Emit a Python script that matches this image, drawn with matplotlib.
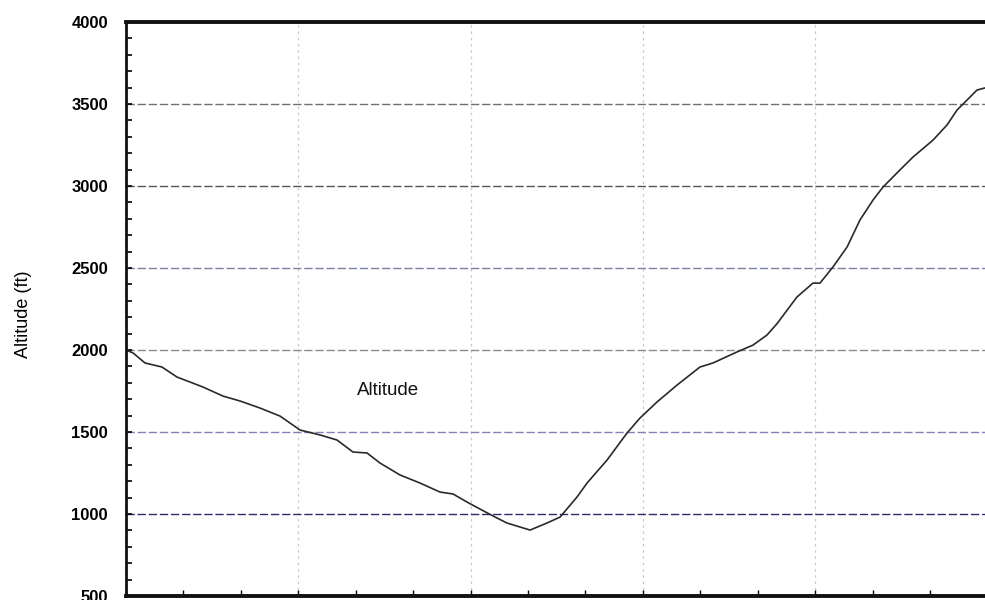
import matplotlib
matplotlib.use("Agg")
import matplotlib.pyplot as plt
from matplotlib.ticker import MultipleLocator

plt.rcParams['font.family'] = ['Liberation Sans', 'DejaVu Sans']

# Data (x in major-grid units, altitude in ft)
distance = [0.000, 0.041, 0.110, 0.209, 0.296, 0.371, 0.447, 0.563, 0.662, 0.778,
            0.894, 1.010, 1.126, 1.225, 1.317, 1.399, 1.474, 1.590, 1.706, 1.822,
            1.898, 1.979, 2.055, 2.130, 2.211, 2.345, 2.443, 2.519, 2.618, 2.676,
            2.792, 2.908, 2.983, 3.082, 3.198, 3.331, 3.407, 3.546, 3.639, 3.720,
            3.778, 3.894, 3.987, 4.028, 4.103, 4.185, 4.260, 4.336, 4.394, 4.492,
            4.568, 4.684, 4.765, 4.823, 4.881, 4.939, 4.985]
altitude = [2000, 1982, 1921, 1896, 1835, 1805, 1774, 1719, 1689, 1646,
            1597, 1512, 1482, 1451, 1378, 1372, 1311, 1238, 1189, 1134,
            1122, 1073, 1030, 988, 945, 902, 945, 981, 1104, 1189,
            1329, 1494, 1585, 1683, 1786, 1896, 1921, 1988, 2030, 2091,
            2160, 2323, 2408, 2408, 2506, 2628, 2793, 2915, 2994, 3098,
            3177, 3280, 3372, 3463, 3524, 3585, 3598]

y_ticks = [500, 1000, 1500, 2000, 2500, 3000, 3500, 4000]
y_label = "Altitude (ft)"
series_label = "Altitude"

fig = plt.figure(figsize=(9.85, 6.0), dpi=100)
ax = fig.add_axes([126 / 985, 4 / 600, 861.5 / 985, 574 / 600])

ax.plot(distance, altitude, color='#2a2a2a', lw=1.2)

ax.set_xlim(0, 5)
ax.set_ylim(500, 4000)
ax.set_yticks(y_ticks)
ax.set_yticklabels([str(v) for v in y_ticks])
ax.yaxis.set_minor_locator(MultipleLocator(100))
ax.xaxis.set_major_locator(MultipleLocator(1))
ax.xaxis.set_minor_locator(MultipleLocator(1 / 3))

ax.tick_params(axis='y', which='both', direction='in', length=4, width=1.2,
               pad=13, labelsize=12)
ax.tick_params(axis='x', which='both', direction='in', length=4, width=1.0,
               labelbottom=False)
for lab in ax.get_yticklabels():
    lab.set_fontweight('bold')

# grid lines
ax.grid(axis='x', which='major', color='#c8c8c8', lw=0.9, ls=(0, (2, 3)))
ax.grid(axis='y', which='major', color='#777777', lw=1.0, ls=(0, (6, 2)))
grid_colors = {1000: '#2c2c6a', 1500: '#8a7fb8', 2000: '#8c8c8c',
               2500: '#7a7fa8', 3000: '#555555', 3500: '#707070'}
for gl, v in zip(ax.get_ygridlines(), y_ticks):
    if v in grid_colors:
        gl.set_color(grid_colors[v])
    else:
        gl.set_visible(False)

for side in ['top', 'bottom']:
    ax.spines[side].set_linewidth(2.8)
    ax.spines[side].set_color('#111111')
ax.spines['left'].set_linewidth(2.0)
ax.spines['left'].set_color('#111111')

ax.set_ylabel(y_label, fontsize=13)
ax.yaxis.set_label_coords(-0.109, 0.49)

ax.text(1.341, 1756, series_label, fontsize=13.5, ha='left', va='center',
        color='#111111')

fig.savefig("out.png", dpi=100)
